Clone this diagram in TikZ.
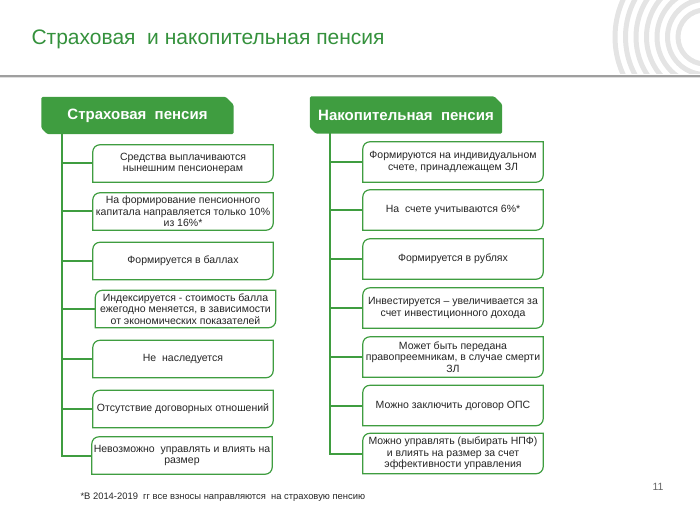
\documentclass[tikz,border=0pt]{standalone}
\usepackage{fontspec}
\setmainfont{Liberation Sans}
\usetikzlibrary{positioning,backgrounds}
\definecolor{sbgreen}{RGB}{63,157,64}
\definecolor{titlegreen}{RGB}{52,145,60}
\definecolor{ringgray}{RGB}{228,228,228}

\begin{document}
\begin{tikzpicture}[x=1bp, y=-1bp,
    item/.style={minimum width=180bp, minimum height=37bp, inner sep=0pt, align=center, text=black!85, font=\fontsize{10.5bp}{11.5bp}\selectfont},
    ritem/.style={item, minimum height=40bp},
    head/.style={minimum width=192bp, minimum height=37bp, inner sep=0pt, text=white, font=\fontsize{15bp}{17bp}\selectfont\bfseries},
    itemline/.style={draw=sbgreen, line width=1.2bp, fill=white},
    headfill/.style={fill=sbgreen, rounded corners=1.5bp},
    trunk/.style={draw=sbgreen, line width=2bp}
]
\useasboundingbox (0,0) rectangle (700,525);

% rings in the corner
\begin{scope}
  \clip (560,0) rectangle (700,74);
  \foreach \r in {27,37.5,...,92} \draw[ringgray, line width=5bp] (705,37) circle[radius=\r bp];
\end{scope}

% title
\node[anchor=west, text=titlegreen, font=\fontsize{21bp}{24bp}\selectfont] (title) at (28,39) {Страховая~ и накопительная пенсия};
\coordinate (barl) at (0,76);
\coordinate (barr) at (700,76);
\draw[gray!75, line width=1.5bp] (barl) -- (barr);
\draw[gray!25, line width=1bp] ([yshift=-1.2bp]barl) -- ([yshift=-1.2bp]barr);

% headers
\node[head] (shead) at (137.5,115.5) {Страховая~ пенсия};
\node[head] (nhead) at (406,115) {Накопительная~ пенсия};

% left column
\node[item] (s1) at (183,163.5) {Средства выплачиваются\\нынешним пенсионерам};
\node[item] (s2) at (183,211.5) {На формирование пенсионного\\капитала направляется только 10\%\\из 16\%*};
\node[item] (s3) at (183,261) {Формируется в баллах};
\node[item] (s4) at (185.5,309) {Индексируется - стоимость балла\\ежегодно меняется, в зависимости\\от экономических показателей};
\node[item] (s5) at (183,359) {Не~ наследуется};
\node[item] (s6) at (183,409) {Отсутствие договорных отношений};
\node[item] (s7) at (182,455.5) {Невозможно~ управлять и влиять на\\размер};

% right column
\node[ritem] (n1) at (453,162) {Формируются на индивидуальном\\счете, принадлежащем ЗЛ};
\node[ritem] (n2) at (453,210) {На~ счете учитываются 6\%*};
\node[ritem] (n3) at (453,259) {Формируется в рублях};
\node[ritem] (n4) at (453,308) {Инвестируется -- увеличивается за\\счет инвестиционного дохода};
\node[ritem] (n5) at (453,357) {Может быть передана\\правопреемникам, в случае смерти\\ЗЛ};
\node[ritem] (n6) at (453,405.5) {Можно заключить договор ОПС};
\node[ritem] (n7) at (453,453.5) {Можно управлять (выбирать НПФ)\\и влиять на размер за счет\\эффективности управления};

% footnote and page number
\node[anchor=west, text=black!85, font=\fontsize{9.4bp}{11bp}\selectfont] (note) at (77,497) {*В 2014-2019~ гг все взносы направляются~ на страховую пенсию};
\node[text=black!60, font=\fontsize{10.5bp}{12bp}\selectfont] (page) at (658,487) {11};

\begin{scope}[on background layer]
  \foreach \n in {shead,nhead}
    \path[headfill] (\n.north west) -- ([xshift=-8bp]\n.north east) -- ([yshift=-8bp]\n.north east)
      -- (\n.south east) -- ([xshift=6bp]\n.south west) -- ([yshift=6bp]\n.south west) -- cycle;

  \coordinate (strunk) at (62,134);
  \coordinate (ntrunk) at (330,133);
  \draw[trunk] (strunk) |- (s7.west);
  \draw[trunk] (ntrunk) |- (n7.west);
  \foreach \i in {1,...,6} {
    \draw[trunk] (s\i.west -| strunk) -- (s\i.west);
    \draw[trunk] (n\i.west -| ntrunk) -- (n\i.west);
  }

  \foreach \n in {s1,s2,s3,s4,s5,s6,s7,n1,n2,n3,n4,n5,n6,n7}
    \draw[itemline] ([xshift=7bp]\n.north west) -- (\n.north east) -- ([yshift=7bp]\n.south east)
      arc[start angle=0, end angle=-90, radius=7bp] -- (\n.south west) -- ([yshift=-7bp]\n.north west)
      arc[start angle=180, end angle=90, radius=7bp] -- cycle;
\end{scope}

\end{tikzpicture}
\end{document}
